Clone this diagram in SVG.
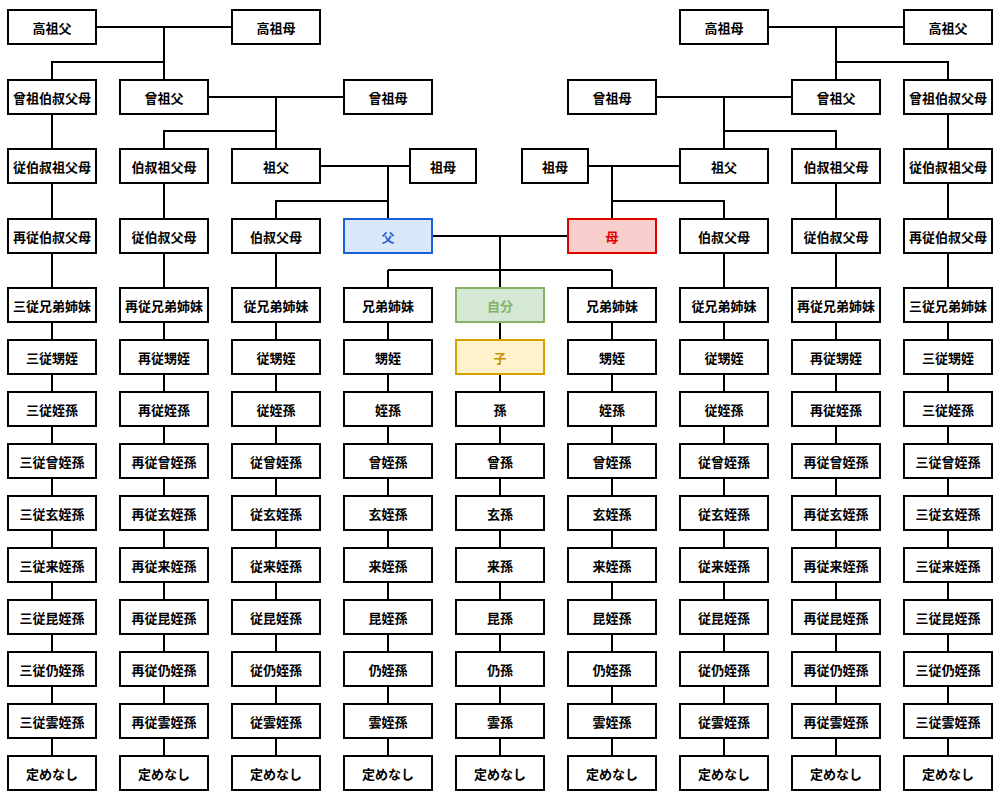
<svg xmlns="http://www.w3.org/2000/svg" width="1000" height="804" viewBox="0 0 1000 804">
<style>
rect{fill:#fff;stroke:#000;stroke-width:2}
text{font-family:"Noto Sans CJK JP","Noto Sans CJK SC",sans-serif;font-size:13px;font-weight:bold;text-anchor:middle;dominant-baseline:central;fill:#000}
.c path{fill:none;stroke:#000;stroke-width:2}
.fa rect{fill:#dae8fc;stroke:#1a5fd6}
.fa text{fill:#2a5fd0}
.mo rect{fill:#f8cecc;stroke:#dd0000}
.mo text{fill:#dd0000}
.me rect{fill:#d5e8d4;stroke:#82b366}
.me text{fill:#82b366}
.ch rect{fill:#fff2cc;stroke:#d6a000}
.ch text{fill:#c99400}
</style>
<g id="connectors" class="c">
<path d="M97,27H231M164,27V79M164,62H52V79"/>
<path d="M209,97H343M276,97V148M276,131H164V148"/>
<path d="M321,166H409M388,166V218M388,201H276V218"/>
<path d="M769,27H903M836,27V79M836,62H948V79"/>
<path d="M657,97H791M724,97V148M724,131H836V148"/>
<path d="M589,166H679M612,166V218M612,201H724V218"/>
<path d="M433,236H567M500,236V287M388,270H612M388,270V287M612,270V287"/>
<path d="M52,115V755M164,184V755M276,254V755M388,323V755M500,323V755M612,323V755M724,254V755M836,184V755M948,115V755"/>
</g>
<g id="n-r0c0"><rect x="8" y="10" width="88" height="34"/><text x="52" y="27">高祖父</text></g>
<g id="n-r0c2"><rect x="232" y="10" width="88" height="34"/><text x="276" y="27">高祖母</text></g>
<g id="n-r0c6"><rect x="680" y="10" width="88" height="34"/><text x="724" y="27">高祖母</text></g>
<g id="n-r0c8"><rect x="904" y="10" width="88" height="34"/><text x="948" y="27">高祖父</text></g>
<g id="n-r1c0"><rect x="8" y="80" width="88" height="34"/><text x="52" y="97">曾祖伯叔父母</text></g>
<g id="n-r1c1"><rect x="120" y="80" width="88" height="34"/><text x="164" y="97">曾祖父</text></g>
<g id="n-r1c3"><rect x="344" y="80" width="88" height="34"/><text x="388" y="97">曾祖母</text></g>
<g id="n-r1c5"><rect x="568" y="80" width="88" height="34"/><text x="612" y="97">曾祖母</text></g>
<g id="n-r1c7"><rect x="792" y="80" width="88" height="34"/><text x="836" y="97">曾祖父</text></g>
<g id="n-r1c8"><rect x="904" y="80" width="88" height="34"/><text x="948" y="97">曾祖伯叔父母</text></g>
<g id="n-r2c0"><rect x="8" y="149" width="88" height="34"/><text x="52" y="166">従伯叔祖父母</text></g>
<g id="n-r2c1"><rect x="120" y="149" width="88" height="34"/><text x="164" y="166">伯叔祖父母</text></g>
<g id="n-r2c2"><rect x="232" y="149" width="88" height="34"/><text x="276" y="166">祖父</text></g>
<g id="n-r2gmL"><rect x="410" y="149" width="66" height="34"/><text x="443" y="166">祖母</text></g>
<g id="n-r2gmR"><rect x="522" y="149" width="66" height="34"/><text x="555" y="166">祖母</text></g>
<g id="n-r2c6"><rect x="680" y="149" width="88" height="34"/><text x="724" y="166">祖父</text></g>
<g id="n-r2c7"><rect x="792" y="149" width="88" height="34"/><text x="836" y="166">伯叔祖父母</text></g>
<g id="n-r2c8"><rect x="904" y="149" width="88" height="34"/><text x="948" y="166">従伯叔祖父母</text></g>
<g id="n-r3c0"><rect x="8" y="219" width="88" height="34"/><text x="52" y="236">再従伯叔父母</text></g>
<g id="n-r3c1"><rect x="120" y="219" width="88" height="34"/><text x="164" y="236">従伯叔父母</text></g>
<g id="n-r3c2"><rect x="232" y="219" width="88" height="34"/><text x="276" y="236">伯叔父母</text></g>
<g id="n-father" class="fa"><rect x="344" y="219" width="88" height="34"/><text x="388" y="236">父</text></g>
<g id="n-mother" class="mo"><rect x="568" y="219" width="88" height="34"/><text x="612" y="236">母</text></g>
<g id="n-r3c6"><rect x="680" y="219" width="88" height="34"/><text x="724" y="236">伯叔父母</text></g>
<g id="n-r3c7"><rect x="792" y="219" width="88" height="34"/><text x="836" y="236">従伯叔父母</text></g>
<g id="n-r3c8"><rect x="904" y="219" width="88" height="34"/><text x="948" y="236">再従伯叔父母</text></g>
<g id="n-r4c0"><rect x="8" y="288" width="88" height="34"/><text x="52" y="305">三従兄弟姉妹</text></g>
<g id="n-r4c1"><rect x="120" y="288" width="88" height="34"/><text x="164" y="305">再従兄弟姉妹</text></g>
<g id="n-r4c2"><rect x="232" y="288" width="88" height="34"/><text x="276" y="305">従兄弟姉妹</text></g>
<g id="n-r4c3"><rect x="344" y="288" width="88" height="34"/><text x="388" y="305">兄弟姉妹</text></g>
<g id="n-self" class="me"><rect x="456" y="288" width="88" height="34"/><text x="500" y="305">自分</text></g>
<g id="n-r4c5"><rect x="568" y="288" width="88" height="34"/><text x="612" y="305">兄弟姉妹</text></g>
<g id="n-r4c6"><rect x="680" y="288" width="88" height="34"/><text x="724" y="305">従兄弟姉妹</text></g>
<g id="n-r4c7"><rect x="792" y="288" width="88" height="34"/><text x="836" y="305">再従兄弟姉妹</text></g>
<g id="n-r4c8"><rect x="904" y="288" width="88" height="34"/><text x="948" y="305">三従兄弟姉妹</text></g>
<g id="n-r5c0"><rect x="8" y="340" width="88" height="34"/><text x="52" y="357">三従甥姪</text></g>
<g id="n-r5c1"><rect x="120" y="340" width="88" height="34"/><text x="164" y="357">再従甥姪</text></g>
<g id="n-r5c2"><rect x="232" y="340" width="88" height="34"/><text x="276" y="357">従甥姪</text></g>
<g id="n-r5c3"><rect x="344" y="340" width="88" height="34"/><text x="388" y="357">甥姪</text></g>
<g id="n-child" class="ch"><rect x="456" y="340" width="88" height="34"/><text x="500" y="357">子</text></g>
<g id="n-r5c5"><rect x="568" y="340" width="88" height="34"/><text x="612" y="357">甥姪</text></g>
<g id="n-r5c6"><rect x="680" y="340" width="88" height="34"/><text x="724" y="357">従甥姪</text></g>
<g id="n-r5c7"><rect x="792" y="340" width="88" height="34"/><text x="836" y="357">再従甥姪</text></g>
<g id="n-r5c8"><rect x="904" y="340" width="88" height="34"/><text x="948" y="357">三従甥姪</text></g>
<g id="n-r6c0"><rect x="8" y="392" width="88" height="34"/><text x="52" y="409">三従姪孫</text></g>
<g id="n-r6c1"><rect x="120" y="392" width="88" height="34"/><text x="164" y="409">再従姪孫</text></g>
<g id="n-r6c2"><rect x="232" y="392" width="88" height="34"/><text x="276" y="409">従姪孫</text></g>
<g id="n-r6c3"><rect x="344" y="392" width="88" height="34"/><text x="388" y="409">姪孫</text></g>
<g id="n-r6c4"><rect x="456" y="392" width="88" height="34"/><text x="500" y="409">孫</text></g>
<g id="n-r6c5"><rect x="568" y="392" width="88" height="34"/><text x="612" y="409">姪孫</text></g>
<g id="n-r6c6"><rect x="680" y="392" width="88" height="34"/><text x="724" y="409">従姪孫</text></g>
<g id="n-r6c7"><rect x="792" y="392" width="88" height="34"/><text x="836" y="409">再従姪孫</text></g>
<g id="n-r6c8"><rect x="904" y="392" width="88" height="34"/><text x="948" y="409">三従姪孫</text></g>
<g id="n-r7c0"><rect x="8" y="444" width="88" height="34"/><text x="52" y="461">三従曾姪孫</text></g>
<g id="n-r7c1"><rect x="120" y="444" width="88" height="34"/><text x="164" y="461">再従曾姪孫</text></g>
<g id="n-r7c2"><rect x="232" y="444" width="88" height="34"/><text x="276" y="461">従曾姪孫</text></g>
<g id="n-r7c3"><rect x="344" y="444" width="88" height="34"/><text x="388" y="461">曾姪孫</text></g>
<g id="n-r7c4"><rect x="456" y="444" width="88" height="34"/><text x="500" y="461">曾孫</text></g>
<g id="n-r7c5"><rect x="568" y="444" width="88" height="34"/><text x="612" y="461">曾姪孫</text></g>
<g id="n-r7c6"><rect x="680" y="444" width="88" height="34"/><text x="724" y="461">従曾姪孫</text></g>
<g id="n-r7c7"><rect x="792" y="444" width="88" height="34"/><text x="836" y="461">再従曾姪孫</text></g>
<g id="n-r7c8"><rect x="904" y="444" width="88" height="34"/><text x="948" y="461">三従曾姪孫</text></g>
<g id="n-r8c0"><rect x="8" y="496" width="88" height="34"/><text x="52" y="513">三従玄姪孫</text></g>
<g id="n-r8c1"><rect x="120" y="496" width="88" height="34"/><text x="164" y="513">再従玄姪孫</text></g>
<g id="n-r8c2"><rect x="232" y="496" width="88" height="34"/><text x="276" y="513">従玄姪孫</text></g>
<g id="n-r8c3"><rect x="344" y="496" width="88" height="34"/><text x="388" y="513">玄姪孫</text></g>
<g id="n-r8c4"><rect x="456" y="496" width="88" height="34"/><text x="500" y="513">玄孫</text></g>
<g id="n-r8c5"><rect x="568" y="496" width="88" height="34"/><text x="612" y="513">玄姪孫</text></g>
<g id="n-r8c6"><rect x="680" y="496" width="88" height="34"/><text x="724" y="513">従玄姪孫</text></g>
<g id="n-r8c7"><rect x="792" y="496" width="88" height="34"/><text x="836" y="513">再従玄姪孫</text></g>
<g id="n-r8c8"><rect x="904" y="496" width="88" height="34"/><text x="948" y="513">三従玄姪孫</text></g>
<g id="n-r9c0"><rect x="8" y="548" width="88" height="34"/><text x="52" y="565">三従来姪孫</text></g>
<g id="n-r9c1"><rect x="120" y="548" width="88" height="34"/><text x="164" y="565">再従来姪孫</text></g>
<g id="n-r9c2"><rect x="232" y="548" width="88" height="34"/><text x="276" y="565">従来姪孫</text></g>
<g id="n-r9c3"><rect x="344" y="548" width="88" height="34"/><text x="388" y="565">来姪孫</text></g>
<g id="n-r9c4"><rect x="456" y="548" width="88" height="34"/><text x="500" y="565">来孫</text></g>
<g id="n-r9c5"><rect x="568" y="548" width="88" height="34"/><text x="612" y="565">来姪孫</text></g>
<g id="n-r9c6"><rect x="680" y="548" width="88" height="34"/><text x="724" y="565">従来姪孫</text></g>
<g id="n-r9c7"><rect x="792" y="548" width="88" height="34"/><text x="836" y="565">再従来姪孫</text></g>
<g id="n-r9c8"><rect x="904" y="548" width="88" height="34"/><text x="948" y="565">三従来姪孫</text></g>
<g id="n-r10c0"><rect x="8" y="600" width="88" height="34"/><text x="52" y="617">三従昆姪孫</text></g>
<g id="n-r10c1"><rect x="120" y="600" width="88" height="34"/><text x="164" y="617">再従昆姪孫</text></g>
<g id="n-r10c2"><rect x="232" y="600" width="88" height="34"/><text x="276" y="617">従昆姪孫</text></g>
<g id="n-r10c3"><rect x="344" y="600" width="88" height="34"/><text x="388" y="617">昆姪孫</text></g>
<g id="n-r10c4"><rect x="456" y="600" width="88" height="34"/><text x="500" y="617">昆孫</text></g>
<g id="n-r10c5"><rect x="568" y="600" width="88" height="34"/><text x="612" y="617">昆姪孫</text></g>
<g id="n-r10c6"><rect x="680" y="600" width="88" height="34"/><text x="724" y="617">従昆姪孫</text></g>
<g id="n-r10c7"><rect x="792" y="600" width="88" height="34"/><text x="836" y="617">再従昆姪孫</text></g>
<g id="n-r10c8"><rect x="904" y="600" width="88" height="34"/><text x="948" y="617">三従昆姪孫</text></g>
<g id="n-r11c0"><rect x="8" y="652" width="88" height="34"/><text x="52" y="669">三従仍姪孫</text></g>
<g id="n-r11c1"><rect x="120" y="652" width="88" height="34"/><text x="164" y="669">再従仍姪孫</text></g>
<g id="n-r11c2"><rect x="232" y="652" width="88" height="34"/><text x="276" y="669">従仍姪孫</text></g>
<g id="n-r11c3"><rect x="344" y="652" width="88" height="34"/><text x="388" y="669">仍姪孫</text></g>
<g id="n-r11c4"><rect x="456" y="652" width="88" height="34"/><text x="500" y="669">仍孫</text></g>
<g id="n-r11c5"><rect x="568" y="652" width="88" height="34"/><text x="612" y="669">仍姪孫</text></g>
<g id="n-r11c6"><rect x="680" y="652" width="88" height="34"/><text x="724" y="669">従仍姪孫</text></g>
<g id="n-r11c7"><rect x="792" y="652" width="88" height="34"/><text x="836" y="669">再従仍姪孫</text></g>
<g id="n-r11c8"><rect x="904" y="652" width="88" height="34"/><text x="948" y="669">三従仍姪孫</text></g>
<g id="n-r12c0"><rect x="8" y="704" width="88" height="34"/><text x="52" y="721">三従雲姪孫</text></g>
<g id="n-r12c1"><rect x="120" y="704" width="88" height="34"/><text x="164" y="721">再従雲姪孫</text></g>
<g id="n-r12c2"><rect x="232" y="704" width="88" height="34"/><text x="276" y="721">従雲姪孫</text></g>
<g id="n-r12c3"><rect x="344" y="704" width="88" height="34"/><text x="388" y="721">雲姪孫</text></g>
<g id="n-r12c4"><rect x="456" y="704" width="88" height="34"/><text x="500" y="721">雲孫</text></g>
<g id="n-r12c5"><rect x="568" y="704" width="88" height="34"/><text x="612" y="721">雲姪孫</text></g>
<g id="n-r12c6"><rect x="680" y="704" width="88" height="34"/><text x="724" y="721">従雲姪孫</text></g>
<g id="n-r12c7"><rect x="792" y="704" width="88" height="34"/><text x="836" y="721">再従雲姪孫</text></g>
<g id="n-r12c8"><rect x="904" y="704" width="88" height="34"/><text x="948" y="721">三従雲姪孫</text></g>
<g id="n-r13c0"><rect x="8" y="756" width="88" height="34"/><text x="52" y="773">定めなし</text></g>
<g id="n-r13c1"><rect x="120" y="756" width="88" height="34"/><text x="164" y="773">定めなし</text></g>
<g id="n-r13c2"><rect x="232" y="756" width="88" height="34"/><text x="276" y="773">定めなし</text></g>
<g id="n-r13c3"><rect x="344" y="756" width="88" height="34"/><text x="388" y="773">定めなし</text></g>
<g id="n-r13c4"><rect x="456" y="756" width="88" height="34"/><text x="500" y="773">定めなし</text></g>
<g id="n-r13c5"><rect x="568" y="756" width="88" height="34"/><text x="612" y="773">定めなし</text></g>
<g id="n-r13c6"><rect x="680" y="756" width="88" height="34"/><text x="724" y="773">定めなし</text></g>
<g id="n-r13c7"><rect x="792" y="756" width="88" height="34"/><text x="836" y="773">定めなし</text></g>
<g id="n-r13c8"><rect x="904" y="756" width="88" height="34"/><text x="948" y="773">定めなし</text></g>
</svg>
